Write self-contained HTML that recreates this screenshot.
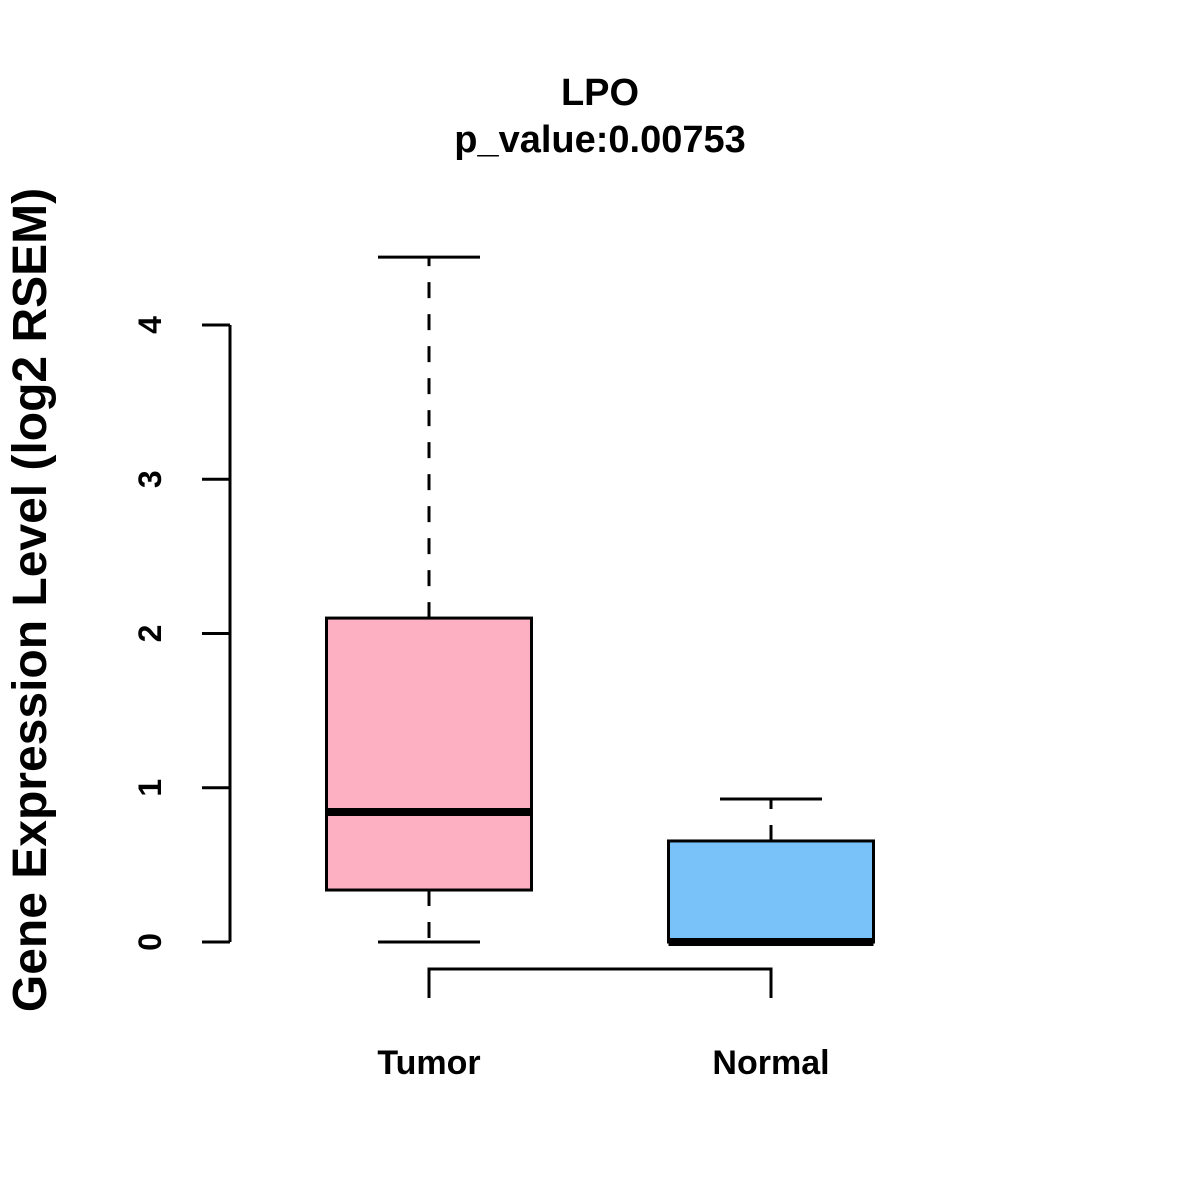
<!DOCTYPE html>
<html><head><meta charset="utf-8"><style>html,body{margin:0;padding:0;background:#fff}svg{display:block}text{font-family:"Liberation Sans",Arial,sans-serif;font-weight:bold;fill:#000}</style></head>
<body>
<svg id="chart" width="1200" height="1200" viewBox="0 0 1200 1200" xmlns="http://www.w3.org/2000/svg">
<text x="600" y="105" font-size="38" text-anchor="middle">LPO</text>
<text x="600" y="152" font-size="38" text-anchor="middle">p_value:0.00753</text>
<text transform="translate(46,600) rotate(-90)" font-size="48" text-anchor="middle">Gene Expression Level (log2 RSEM)</text>
<g id="yaxis"></g>
<g id="boxes"></g>
<g id="xaxis"></g>
</svg>
<script>
const categories = ["Tumor", "Normal"];
const whiskerLow = [0, 0];
const q1 = [0.337, 0];
const median = [0.843, 0];
const q3 = [2.10, 0.655];
const whiskerHigh = [4.44, 0.927];
const yTicks = [0, 1, 2, 3, 4];
const colors = ["#FDB0C1", "#79C2F9"];

const NS = "http://www.w3.org/2000/svg";
function y(v){ return 942 - v * 154.25; }
function x(i){ return 429 + i * 342; }
const halfW = 102.5, capW = 51;
function mk(parent, tag, attrs){
  const e = document.createElementNS(NS, tag);
  for (const k in attrs) e.setAttribute(k, attrs[k]);
  parent.appendChild(e);
  return e;
}
const yaxis = document.getElementById('yaxis');
let ln = mk(yaxis, 'line', {x1:230, x2:230, y1:y(yTicks[0]), y2:y(yTicks[yTicks.length-1]), stroke:'#000', 'stroke-width':3});


yTicks.forEach(t => {
  const tk = mk(yaxis, 'line', {x1:202, x2:230, y1:y(t), y2:y(t), stroke:'#000', 'stroke-width':3});
  
  
  const tx = mk(yaxis, 'text', {transform:`translate(161,${y(t)}) rotate(-90)`, 'font-size':32, 'text-anchor':'middle'});
  
  
  tx.textContent = t;
});
const boxes = document.getElementById('boxes');
categories.forEach((c, i) => {
  const cx = x(i);
  const g = mk(boxes, 'g', {});
  
  
  const dash = {stroke:'#000', 'stroke-width':3, 'stroke-dasharray':'16 16'};
  mk(g, 'line', Object.assign({x1:cx, x2:cx, y1:y(q3[i]), y2:y(whiskerHigh[i])}, dash));
  mk(g, 'line', Object.assign({x1:cx, x2:cx, y1:y(q1[i]), y2:y(whiskerLow[i])}, dash));
  mk(g, 'line', {x1:cx-capW, x2:cx+capW, y1:y(whiskerHigh[i]), y2:y(whiskerHigh[i]), stroke:'#000', 'stroke-width':3});
  mk(g, 'line', {x1:cx-capW, x2:cx+capW, y1:y(whiskerLow[i]), y2:y(whiskerLow[i]), stroke:'#000', 'stroke-width':3});
  mk(g, 'rect', {x:cx-halfW, y:y(q3[i]), width:2*halfW, height:Math.max(0.5, y(q1[i])-y(q3[i])), fill:colors[i], stroke:'#000', 'stroke-width':3});
  mk(g, 'line', {x1:cx-halfW, x2:cx+halfW, y1:y(median[i]), y2:y(median[i]), stroke:'#000', 'stroke-width':8});
});
const xaxis = document.getElementById('xaxis');
const p = mk(xaxis, 'path', {d:`M${x(0)},998 V969 H${x(categories.length-1)} V998`, fill:'none', stroke:'#000', 'stroke-width':3});


categories.forEach((c, i) => {
  const t = mk(xaxis, 'text', {x:x(i), y:1074, 'font-size':34, 'text-anchor':'middle'});
  
  
  t.textContent = c;
});
</script>
</body></html>
